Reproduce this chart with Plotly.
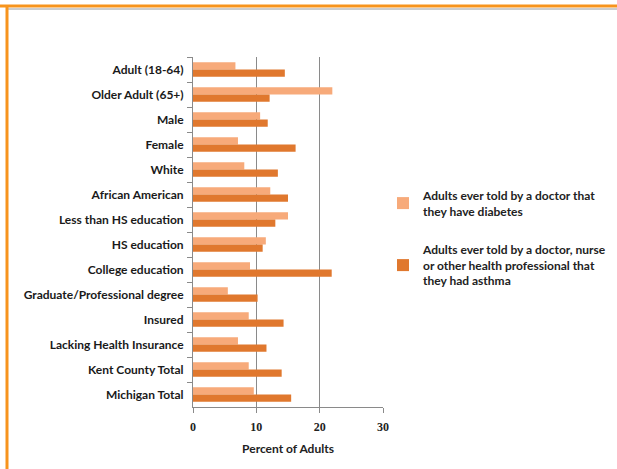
import plotly.graph_objects as go

categories = ["Adult (18-64)", "Older Adult (65+)", "Male", "Female", "White",
              "African American", "Less than HS education", "HS education",
              "College education", "Graduate/Professional degree", "Insured",
              "Lacking Health Insurance", "Kent County Total", "Michigan Total"]
diabetes = [6.7, 22.0, 10.6, 7.1, 8.1, 12.2, 15.0, 11.5, 9.0, 5.5, 8.8, 7.1, 8.8, 9.6]
asthma = [14.5, 12.1, 11.8, 16.2, 13.4, 15.0, 13.0, 11.0, 21.9, 10.2, 14.3, 11.6, 14.0, 15.5]
x_ticks = [0, 10, 20, 30]
series_names = ["Adults ever told by a doctor that<br>they have diabetes",
                "Adults ever told by a doctor, nurse<br>or other health professional that<br>they had asthma"]

FONT = "Lato, Liberation Sans, sans-serif"

fig = go.Figure()
fig.add_trace(go.Bar(y=categories, x=diabetes, orientation="h", name=series_names[0],
                     legendgroup="d",
                     marker=dict(color="#F7AA7A", line=dict(width=0))))
fig.add_trace(go.Bar(y=categories, x=asthma, orientation="h", name=series_names[1],
                     legendgroup="a",
                     marker=dict(color="#E0782E", line=dict(width=0))))

L, R, T, B = 193, 234, 57, 62
W, H = 617, 469
pw, ph = W - L - R, H - T - B

def px(xp):
    return (xp - L) / pw

def py(yp):
    return (H - B - yp) / ph

fig.update_layout(
    width=W, height=H,
    margin=dict(l=L, r=R, t=T, b=B, pad=0, autoexpand=False),
    paper_bgcolor="white", plot_bgcolor="white",
    barmode="group", bargap=0.42, bargroupgap=0,
    font=dict(family=FONT, size=12, color="#1a1a1a", weight="bold"),
    legend=dict(x=px(383), y=py(181), xanchor="left", yanchor="top",
                font=dict(size=12, family=FONT, color="#222", weight="bold"),
                tracegroupgap=20, itemwidth=30, bgcolor="rgba(0,0,0,0)"),
    xaxis=dict(range=[0, 30], tickvals=x_ticks, showgrid=True, gridcolor="#8a8a8a",
               gridwidth=1, zeroline=False, showline=True, linecolor="#8a8a8a",
               ticks="outside", ticklen=5, tickcolor="#8a8a8a", automargin=False,
               ticklabelstandoff=4,
               tickfont=dict(size=12, family="Liberation Serif, serif", color="#222"),
               title=dict(text="Percent of Adults", standoff=11,
                          font=dict(size=12, family=FONT, color="#222", weight="bold"))),
    yaxis=dict(autorange="reversed", showline=True, linecolor="#8a8a8a",
               ticks="outside", ticklen=5, tickcolor="#8a8a8a", tickson="boundaries",
               showgrid=False, ticklabelstandoff=6, automargin=False,
               tickfont=dict(size=12, family=FONT, color="#1a1a1a", weight="bold")),
    shapes=[
        dict(type="line", xref="paper", yref="paper", x0=px(0), x1=px(W), y0=py(6), y1=py(6),
             line=dict(color="#F7941D", width=3)),
        dict(type="line", xref="paper", yref="paper", x0=px(8), x1=px(W), y0=py(9), y1=py(9),
             line=dict(color="#9a9a9a", width=1)),
        dict(type="line", xref="paper", yref="paper", x0=px(7), x1=px(7), y0=py(5), y1=py(H),
             line=dict(color="#F7941D", width=3)),
    ],
    showlegend=True,
)

fig.write_html("out.html", config={"displayModeBar": False},
               post_script="document.body.style.margin='0';")
